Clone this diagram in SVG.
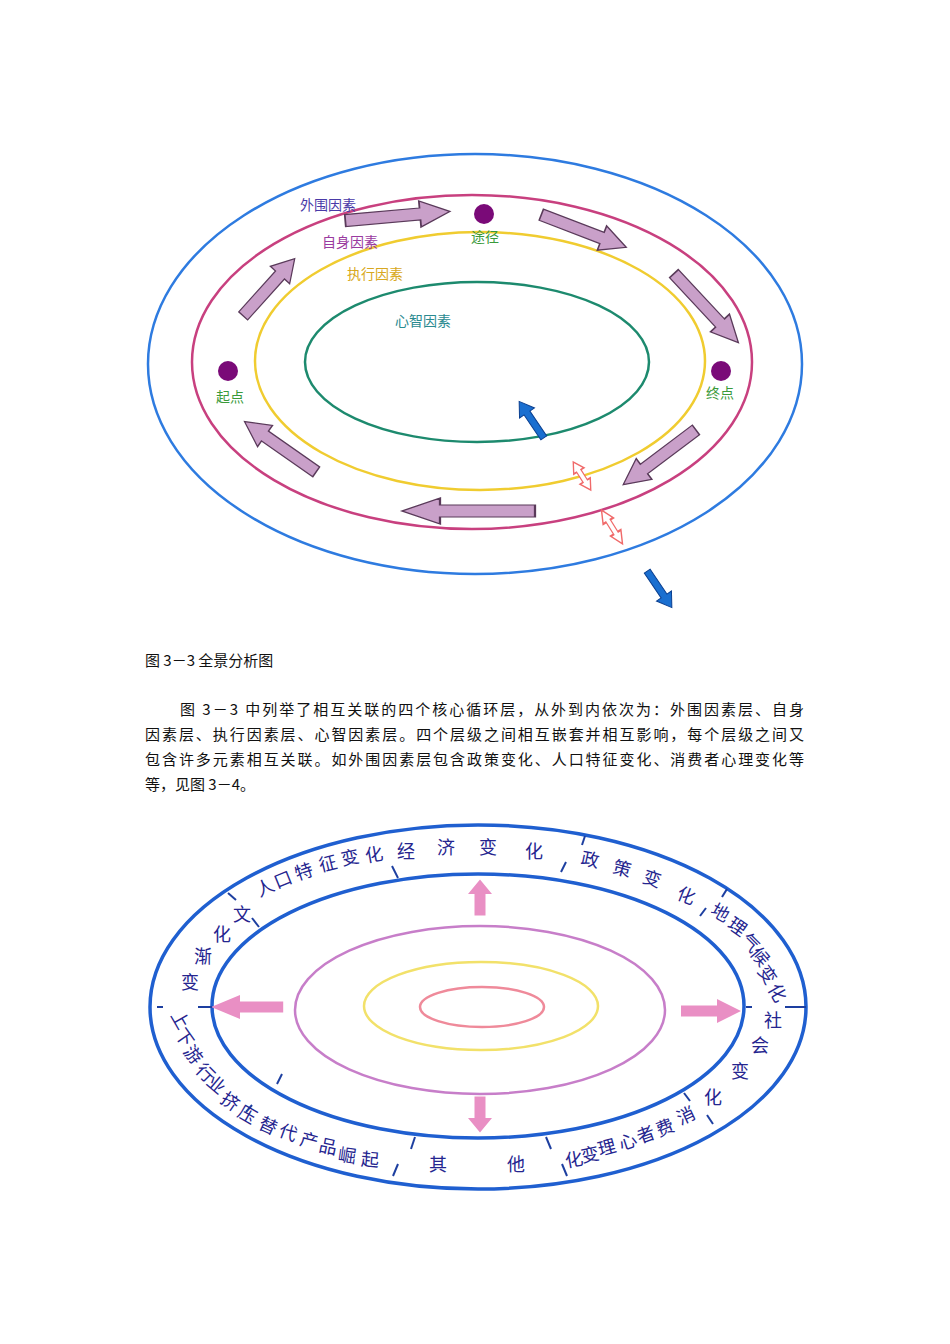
<svg xmlns="http://www.w3.org/2000/svg" width="950" height="1344" viewBox="0 0 950 1344">
<style>
.r{fill:none;stroke-width:2.5}
.lab{font-family:"Noto Sans CJK SC","Liberation Sans",sans-serif;font-size:14px;text-anchor:middle}
.pa{fill:#c9a0c9;stroke:#5a3a5a;stroke-width:1.2}
.ba{fill:#1a6fd0;stroke:#0a3f90;stroke-width:1}
.da{fill:#fff;stroke:#f06a6a;stroke-width:1.2}
.pk{fill:#e98fc4}
.body{font-family:"Noto Sans CJK SC","Liberation Serif",serif;font-size:15px;fill:#111}
.rt{font-family:"Noto Sans CJK SC","Liberation Sans",sans-serif;font-size:18px;fill:#25258f;text-anchor:middle}
.dv{stroke:#1d3fa0;stroke-width:2}
</style>
<defs>
<path id="pa" d="M0,-6 L-50,-6 L-50,6 L0,6 L0,13 L20,0 L0,-13Z"/>
<path id="ba" d="M0,-3.5 L-30,-3.5 L-30,3.5 L0,3.5 L0,9 L14,0 L0,-9Z"/>
<path id="da" d="M-11,0 L-4,-6 L-4,-2.5 L4,-2.5 L4,-6 L11,0 L4,6 L4,2.5 L-4,2.5 L-4,6Z"/>
<path id="pk" d="M0,-5.5 L-24,-5.5 L-24,5.5 L0,5.5 L0,12 L16,0 L0,-12Z"/>
</defs>
<rect width="950" height="1344" fill="#fff"/>
<g id="top">
<g id="rings1">
<ellipse cx="475" cy="364" rx="327" ry="210" class="r" stroke="#2e7be0"/>
<ellipse cx="472" cy="362" rx="280" ry="167" class="r" stroke="#c8407f"/>
<ellipse cx="480" cy="361" rx="225" ry="129" class="r" stroke="#f0cc30"/>
<ellipse cx="477" cy="362" rx="172" ry="80" class="r" stroke="#1d8a6e"/>
</g>
<g id="dots" fill="#7a0a78">
<circle cx="484" cy="214" r="10"/><circle cx="228" cy="371" r="10"/><circle cx="721" cy="371" r="10"/>
</g>
<g id="labels1" class="lab">
<text x="328" y="210" fill="#4a3aa8">外围因素</text>
<text x="350" y="247" fill="#9a3aa0">自身因素</text>
<text x="375" y="279" fill="#d8a820">执行因素</text>
<text x="423" y="326" fill="#2a8a90">心智因素</text>
<text x="485" y="242" fill="#3a9a3a">途径</text>
<text x="230" y="402" fill="#3a9a3a">起点</text>
<text x="720" y="398" fill="#3a9a3a">终点</text>
</g>
<g id="connectors1">
<use href="#pa" class="pa" transform="translate(280,275) rotate(-48) scale(1.1,1)"/>
<use href="#pa" class="pa" transform="translate(420,214) rotate(-5) scale(1.5,1)"/>
<use href="#pa" class="pa" transform="translate(602,238) rotate(21) scale(1.3,1)"/>
<use href="#pa" class="pa" transform="translate(720,323) rotate(47) scale(1.35,1)"/>
<use href="#pa" class="pa" transform="translate(644,469) rotate(143) scale(1.3,1)"/>
<use href="#pa" class="pa" transform="translate(440,511) rotate(180) scale(1.9,1)"/>
<use href="#pa" class="pa" transform="translate(265,436) rotate(-145) scale(1.25,1)"/>
<use href="#ba" class="ba" transform="translate(527,413) rotate(-124)"/>
<use href="#ba" class="ba" transform="translate(664,596) rotate(56)"/>
<use href="#da" class="da" transform="translate(582,476) rotate(58) scale(1.5,1)"/>
<use href="#da" class="da" transform="translate(612,527) rotate(58) scale(1.8,1)"/>
</g>
</g>
<g id="text">
<text class="body" x="145" y="666">图 3－3 全景分析图</text>
<text class="body" x="180" y="715" textLength="624" lengthAdjust="spacing">图 3－3 中列举了相互关联的四个核心循环层，从外到内依次为：外围因素层、自身</text>
<text class="body" x="145" y="740" textLength="659" lengthAdjust="spacing">因素层、执行因素层、心智因素层。四个层级之间相互嵌套并相互影响，每个层级之间又</text>
<text class="body" x="145" y="765" textLength="659" lengthAdjust="spacing">包含许多元素相互关联。如外围因素层包含政策变化、人口特征变化、消费者心理变化等</text>
<text class="body" x="145" y="790">等，见图 3－4。</text>
</g>
<g id="bottom">
<g id="rings2">
<ellipse cx="478" cy="1007" rx="328" ry="182" fill="none" stroke="#1f5fd0" stroke-width="3.5"/>
<ellipse cx="478" cy="1006" rx="266" ry="132" fill="none" stroke="#1f5fd0" stroke-width="3.5"/>
<ellipse cx="480" cy="1010" rx="185" ry="84" class="r" stroke="#c77ec9"/>
<ellipse cx="481" cy="1006" rx="117" ry="44" class="r" stroke="#f2e16a"/>
<ellipse cx="482" cy="1007" rx="62" ry="20" class="r" stroke="#ef8a9a"/>
</g>
<g id="connectors2" class="pk">
<use href="#pk" transform="translate(480,894) rotate(-90) scale(0.9,1)"/>
<use href="#pk" transform="translate(240,1007) rotate(180) scale(1.8,1)"/>
<use href="#pk" transform="translate(717,1011) scale(1.5,1)"/>
<use href="#pk" transform="translate(480,1118) rotate(90) scale(0.9,1)"/>
</g>
<g id="dividers" class="dv">
<line x1="392" y1="866" x2="398" y2="878"/>
<line x1="585" y1="836" x2="582" y2="845"/><line x1="566" y1="862" x2="561" y2="872"/>
<line x1="228" y1="893" x2="236" y2="900"/><line x1="252" y1="918" x2="259" y2="927"/>
<line x1="157" y1="1007" x2="163" y2="1007"/><line x1="198" y1="1007" x2="212" y2="1007"/>
<line x1="746" y1="1007" x2="752" y2="1007"/><line x1="785" y1="1007" x2="806" y2="1007"/>
<line x1="727" y1="889" x2="722" y2="897"/><line x1="706" y1="908" x2="700" y2="916"/>
<line x1="282" y1="1074" x2="277" y2="1084"/><line x1="252" y1="1105" x2="246" y2="1112"/>
<line x1="415" y1="1137" x2="411" y2="1149"/><line x1="398" y1="1164" x2="393" y2="1176"/>
<line x1="546" y1="1137" x2="551" y2="1149"/><line x1="562" y1="1164" x2="567" y2="1176"/>
<line x1="684" y1="1093" x2="690" y2="1101"/><line x1="707" y1="1115" x2="713" y2="1124"/>
</g>
<g id="ringtext" class="rt">
<text x="406" y="858">经</text><text x="446" y="854">济</text><text x="488" y="854">变</text><text x="534" y="858">化</text>
<text x="265" y="894" transform="rotate(-25 265 888)">人</text><text x="283" y="886" transform="rotate(-22 283 880)">口</text><text x="304" y="878" transform="rotate(-18 304 872)">特</text><text x="328" y="870" transform="rotate(-14 328 864)">征</text><text x="350" y="864" transform="rotate(-12 350 858)">变</text><text x="374" y="861" transform="rotate(-10 374 855)">化</text>
<text x="242" y="921">文</text><text x="222" y="941">化</text><text x="203" y="963">渐</text><text x="190" y="989">变</text>
<text x="590" y="866" transform="rotate(12 590 860)">政</text><text x="622" y="875" transform="rotate(15 622 869)">策</text><text x="652" y="885" transform="rotate(18 652 879)">变</text><text x="686" y="902" transform="rotate(22 686 896)">化</text>
<text x="720" y="919" transform="rotate(30 720 913)">地</text><text x="737" y="933" transform="rotate(35 737 927)">理</text><text x="750" y="949" transform="rotate(45 750 943)">气</text><text x="760" y="963" transform="rotate(50 760 957)">候</text><text x="767" y="981" transform="rotate(55 767 975)">变</text><text x="777" y="999" transform="rotate(60 777 993)">化</text>
<text x="773" y="1027">社</text><text x="760" y="1052">会</text><text x="740" y="1078">变</text><text x="713" y="1104">化</text>
<text x="686" y="1122" transform="rotate(-25 686 1116)">消</text><text x="665" y="1134" transform="rotate(-22 665 1128)">费</text><text x="646" y="1141" transform="rotate(-20 646 1135)">者</text><text x="628" y="1148" transform="rotate(-18 628 1142)">心</text><text x="607" y="1154" transform="rotate(-15 607 1148)">理</text><text x="590" y="1161" transform="rotate(-12 590 1155)">变</text><text x="574" y="1166" transform="rotate(-10 574 1160)">化</text>
<text x="438" y="1171">其</text><text x="516" y="1171">他</text>
<text x="180" y="1026" transform="rotate(60 180 1020)">上</text><text x="184" y="1044" transform="rotate(55 184 1038)">下</text><text x="193" y="1061" transform="rotate(50 193 1055)">游</text><text x="205" y="1079" transform="rotate(45 205 1073)">行</text><text x="216" y="1091" transform="rotate(40 216 1085)">业</text><text x="230" y="1108" transform="rotate(35 230 1102)">挤</text><text x="247" y="1121" transform="rotate(30 247 1115)">压</text><text x="268" y="1132" transform="rotate(25 268 1126)">替</text><text x="288" y="1139" transform="rotate(20 288 1133)">代</text><text x="309" y="1147" transform="rotate(15 309 1141)">产</text><text x="328" y="1153" transform="rotate(12 328 1147)">品</text><text x="347" y="1162" transform="rotate(8 347 1156)">崛</text><text x="370" y="1166" transform="rotate(5 370 1160)">起</text>
</g>
</g>
</svg>
